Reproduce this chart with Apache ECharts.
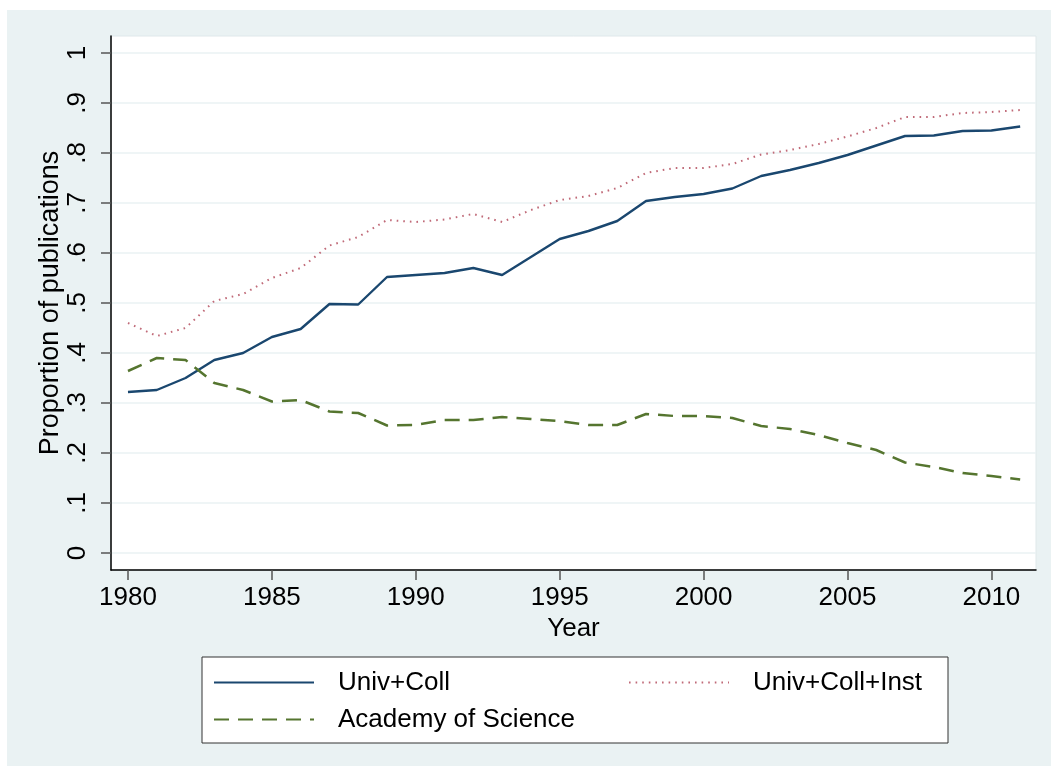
<!DOCTYPE html>
<html>
<head>
<meta charset="utf-8">
<script src="https://cdn.jsdelivr.net/npm/echarts@6/dist/echarts.min.js"></script>
<style>
html,body{margin:0;padding:0;background:#ffffff;width:1051px;height:772px;overflow:hidden;}
#chart{position:absolute;left:7px;top:10px;width:1044px;height:756px;}
</style>
</head>
<body>
<div id="chart"></div>
<script>
const years = [1980,1981,1982,1983,1984,1985,1986,1987,1988,1989,1990,1991,1992,1993,1994,1995,1996,1997,1998,1999,2000,2001,2002,2003,2004,2005,2006,2007,2008,2009,2010,2011];
const univColl = [0.322,0.326,0.350,0.386,0.400,0.432,0.448,0.498,0.497,0.552,0.556,0.560,0.570,0.556,0.592,0.628,0.644,0.664,0.704,0.712,0.718,0.729,0.754,0.766,0.780,0.796,0.815,0.834,0.835,0.844,0.845,0.853];
const univCollInst = [0.460,0.434,0.450,0.504,0.518,0.550,0.570,0.615,0.632,0.666,0.662,0.667,0.678,0.662,0.686,0.706,0.714,0.730,0.760,0.770,0.770,0.778,0.797,0.806,0.818,0.833,0.850,0.872,0.872,0.880,0.882,0.886];
const academy = [0.364,0.390,0.386,0.340,0.326,0.303,0.306,0.283,0.280,0.255,0.256,0.266,0.266,0.272,0.268,0.264,0.256,0.256,0.278,0.274,0.274,0.270,0.254,0.248,0.236,0.220,0.206,0.181,0.172,0.160,0.154,0.147];
const xTicks = [1980,1985,1990,1995,2000,2005,2010];
const yTicks = [0,0.1,0.2,0.3,0.4,0.5,0.6,0.7,0.8,0.9,1];
const seriesNames = ['Univ+Coll','Univ+Coll+Inst','Academy of Science'];

const FONT = 'Liberation Sans';
const chart = echarts.init(document.getElementById('chart'), null, {renderer:'canvas'});
function pairs(v){ return years.map((y,i)=>[y,v[i]]); }
const legendText = {fontSize:26,color:'#000',fontFamily:FONT,width:300,lineHeight:37,padding:[0,0,0,19]};
chart.setOption({
  backgroundColor:'#eaf2f3',
  animation:false,
  textStyle:{fontFamily:FONT},
  grid:{left:104,top:26,right:15,bottom:196,show:true,backgroundColor:'#ffffff',borderColor:'#dfe8ea',borderWidth:1},
  xAxis:{
    type:'value', min:1979.41, max:2011.55,
    name:'Year', nameLocation:'middle', nameGap:46,
    nameTextStyle:{fontSize:26,color:'#000',fontFamily:FONT},
    axisLine:{show:true,onZero:false,lineStyle:{color:'#000',width:1.5}},
    axisTick:{show:true,length:10,lineStyle:{color:'#555',width:1.5},customValues:xTicks},
    axisLabel:{fontSize:26,color:'#000',margin:15,fontFamily:FONT,customValues:xTicks,formatter:v=>String(Math.round(v))},
    splitLine:{show:false}
  },
  yAxis:{
    type:'value', min:-0.034, max:1.034,
    name:'Proportion of publications', nameLocation:'middle', nameGap:47, nameMoveOverlap:false,
    nameTextStyle:{fontSize:27,color:'#000',fontFamily:FONT},
    axisLine:{show:true,onZero:false,lineStyle:{color:'#000',width:1.5}},
    axisTick:{show:true,length:10,lineStyle:{color:'#555',width:1.5},customValues:yTicks},
    axisLabel:{fontSize:26,color:'#000',margin:20,rotate:90,fontFamily:FONT,customValues:yTicks,
      formatter:v=>{const n=Math.round(v*10); if(n===0) return '0'; if(n===10) return '1'; return '.'+n;}},
    splitLine:{show:true,lineStyle:{color:'#eaf2f3',width:1.5}}
  },
  legend:[{
    left:195, top:647,
    orient:'vertical',
    data:[seriesNames[0],seriesNames[2]],
    itemWidth:100, itemHeight:14, itemGap:0,
    padding:[7,310,5,11],
    itemStyle:{opacity:0},
    backgroundColor:'#ffffff', borderColor:'#333', borderWidth:1, borderRadius:0,
    textStyle:legendText
  },{
    left:621, top:654,
    orient:'vertical',
    data:[seriesNames[1]],
    itemWidth:100, itemHeight:14, itemGap:0,
    padding:0,
    itemStyle:{opacity:0},
    textStyle:legendText
  }],
  series:[
    {name:seriesNames[0],type:'line',data:pairs(univColl),symbol:'none',showSymbol:false,
     lineStyle:{color:'#1a476f',width:2.4},itemStyle:{color:'#1a476f'}},
    {name:seriesNames[1],type:'line',data:pairs(univCollInst),symbol:'none',showSymbol:false,
     lineStyle:{color:'#c06a78',width:2,type:[1.6,5]},itemStyle:{color:'#c06a78'}},
    {name:seriesNames[2],type:'line',data:pairs(academy),symbol:'none',showSymbol:false,
     lineStyle:{color:'#55752f',width:2.5,type:[15,9]},itemStyle:{color:'#55752f'}}
  ]
});
</script>
</body>
</html>
